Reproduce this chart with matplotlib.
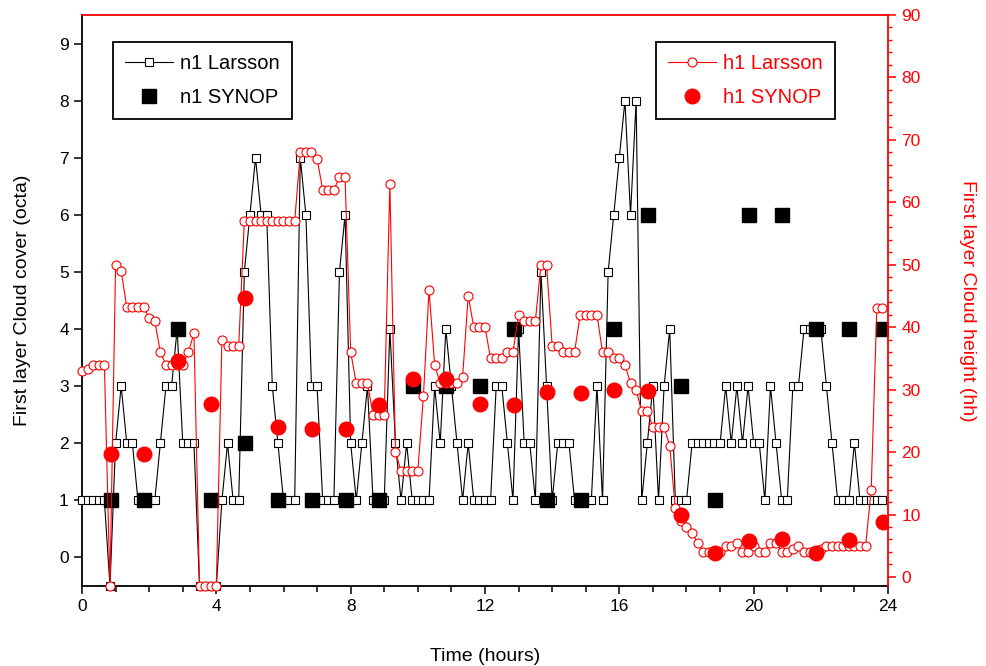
import numpy as np
import matplotlib.pyplot as plt
from matplotlib.lines import Line2D
from matplotlib.ticker import MultipleLocator

plt.rcParams['font.family'] = ['Liberation Sans', 'DejaVu Sans']

# 10-minute Larsson estimates (None = missing, drawn on the axis floor)
n1_larsson = [1, 1, 1, 1, 1, None, 2, 3, 2, 2, 1, 1, 1, 1, 2, 3, 3, 4, 2, 2,
              2, None, None, None, None, 1, 2, 1, 1, 5, 6, 7, 6, 6, 3, 2, 1, 1, 1, 7,
              6, 3, 3, 1, 1, 1, 5, 6, 2, 1, 2, 3, 1, 1, 1, 4, 2, 1, 2, 1,
              1, 1, 1, 3, 2, 4, 3, 2, 1, 2, 1, 1, 1, 1, 3, 3, 2, 1, 4, 2,
              2, 1, 5, 3, 1, 2, 2, 2, 1, 1, 1, 1, 3, 1, 5, 6, 7, 8, 6, 8,
              1, 2, 3, 1, 3, 4, 1, 1, 1, 2, 2, 2, 2, 2, 2, 3, 2, 3, 2, 3,
              2, 2, 1, 3, 2, 1, 1, 3, 3, 4, 4, 4, 4, 3, 2, 1, 1, 1, 2, 1,
              1, 1, 1, 1]
h1_larsson = [33, 33.3, 34, 34, 34, None, 50, 49, 43.2, 43.2, 43.2, 43.2, 41.5, 41, 36, 34, 34, 34, 34, 36,
              39, None, None, None, None, 38, 37, 37, 37, 57, 57, 57, 57, 57, 57, 57, 57, 57, 57, 68,
              68, 68, 67, 62, 62, 62, 64, 64, 36, 31, 31, 31, 26, 26, 26, 63, 20, 17, 17, 17,
              17, 29, 46, 34, 31, 31, 31, 31, 32, 45, 40, 40, 40, 35, 35, 35, 36, 36, 42, 41,
              41, 41, 50, 50, 37, 37, 36, 36, 36, 42, 42, 42, 42, 36, 36, 35, 35, 34, 31, 30,
              26.5, 26.5, 24, 24, 24, 21, 11, 9, 8, 7, 5.5, 4, 4, 4, 4, 5, 5, 5.5, 4, 4,
              5, 4, 4, 5.5, 5.5, 4, 4, 4.5, 5, 4, 4, 4, 4.5, 5, 5, 5, 5, 5, 5, 5,
              5, 14, 43, 43]

synop_hours = [0.85, 1.85, 2.85, 3.85, 4.85, 5.85, 6.85, 7.85, 8.85, 9.85, 10.85, 11.85,
               12.85, 13.85, 14.85, 15.85, 16.85, 17.85, 18.85, 19.85, 20.85, 21.85, 22.85, 23.85]
n1_synop = [1, 1, 4, 1, 2, 1, 1, 1, 1, 3, 3, 3, 4, 1, 1, 4, 6, 3, 1, 6, 6, 4, 4, 4]
h1_synop = [19.7, 19.7, 34.6, 27.7, 44.7, 24.0, 23.7, 23.7, 27.5, 31.7, 31.7, 27.7,
            27.6, 29.6, 29.4, 29.9, 29.8, 9.9, 3.8, 5.8, 6.0, 3.8, 5.9, 8.8]

n_lim = (-0.5, 9.5)
h_lim = (-1.45, 90)

t = np.arange(len(n1_larsson)) / 6.0
n1 = [n_lim[0] if v is None else v for v in n1_larsson]
h1 = [h_lim[0] + 0.05 if v is None else v for v in h1_larsson]

fig = plt.figure(figsize=(9.87, 6.66), dpi=100)
ax = fig.add_axes([82 / 987, 1 - 586 / 666, 806 / 987, 571 / 666])
ax2 = ax.twinx()

ax.plot(t, n1, color='black', lw=0.8, marker='s', ms=6, mfc='white', mec='black',
        mew=0.8, clip_on=False, zorder=3)
ax.plot(synop_hours, n1_synop, 's', color='black', ms=10, ls='none', zorder=4)
ax2.plot(t, h1, color='red', lw=0.8, marker='o', ms=6.5, mfc='white', mec='red',
         mew=0.8, clip_on=False, zorder=3)
ax2.plot(synop_hours, h1_synop, 'o', color='red', ms=10.5, ls='none', zorder=4)

ax.set_xlim(0, 24)
ax.set_ylim(*n_lim)
ax2.set_ylim(*h_lim)
ax.xaxis.set_major_locator(MultipleLocator(4))
ax.xaxis.set_minor_locator(MultipleLocator(1))
ax.yaxis.set_major_locator(MultipleLocator(1))
ax2.yaxis.set_major_locator(MultipleLocator(10))
ax2.yaxis.set_minor_locator(MultipleLocator(2))

for s in ['top', 'right']:
    ax.spines[s].set_visible(False)
for s in ['left', 'bottom']:
    ax2.spines[s].set_visible(False)
    ax.spines[s].set_linewidth(1.3)
for s in ['top', 'right']:
    ax2.spines[s].set_color('red')
    ax2.spines[s].set_linewidth(1.3)

ax.tick_params(axis='both', which='major', labelsize=12.5, length=6, width=1.1,
               direction='out', top=False, right=False)
ax.tick_params(axis='x', which='minor', length=4, width=1.1, direction='out', top=False)
ax2.tick_params(axis='y', which='major', labelsize=12.5, length=6, width=1.1,
                direction='out', colors='red')
ax2.tick_params(axis='y', which='minor', length=3, width=1, direction='out', colors='red')
ax2.tick_params(axis='x', which='both', top=True, bottom=False, labeltop=False,
                labelbottom=False, direction='in', length=6, width=1.1, color='red')

ax.set_xlabel('Time (hours)', fontsize=14, labelpad=24)
ax.set_ylabel('First layer Cloud cover (octa)', fontsize=14, labelpad=20)
ax2.set_ylabel('First layer Cloud height (hh)', fontsize=14, color='red',
               rotation=-90, labelpad=40)

leg1_handles = [
    Line2D([], [], color='black', lw=0.8, marker='s', ms=6, mfc='white', mec='black', mew=0.8),
    Line2D([], [], color='black', ls='none', marker='s', ms=10),
]
leg2_handles = [
    Line2D([], [], color='red', lw=0.8, marker='o', ms=6.5, mfc='white', mec='red', mew=0.8),
    Line2D([], [], color='red', ls='none', marker='o', ms=10.5),
]
leg_kw = dict(loc='upper left', borderaxespad=0, fontsize=14.5, fancybox=False,
              edgecolor='black', framealpha=1, handlelength=2.4, handletextpad=0.35,
              labelspacing=0.75, borderpad=0.6)
leg1 = ax2.legend(leg1_handles, ['n1 Larsson', 'n1 SYNOP'],
                  bbox_to_anchor=(31 / 806, 544 / 571), **leg_kw)
leg1.get_frame().set_linewidth(1.3)
ax2.add_artist(leg1)
leg2 = ax2.legend(leg2_handles, ['h1 Larsson', 'h1 SYNOP'],
                  bbox_to_anchor=(574 / 806, 544 / 571), labelcolor='red', **leg_kw)
leg2.get_frame().set_linewidth(1.3)

fig.savefig('out.png', dpi=100)
